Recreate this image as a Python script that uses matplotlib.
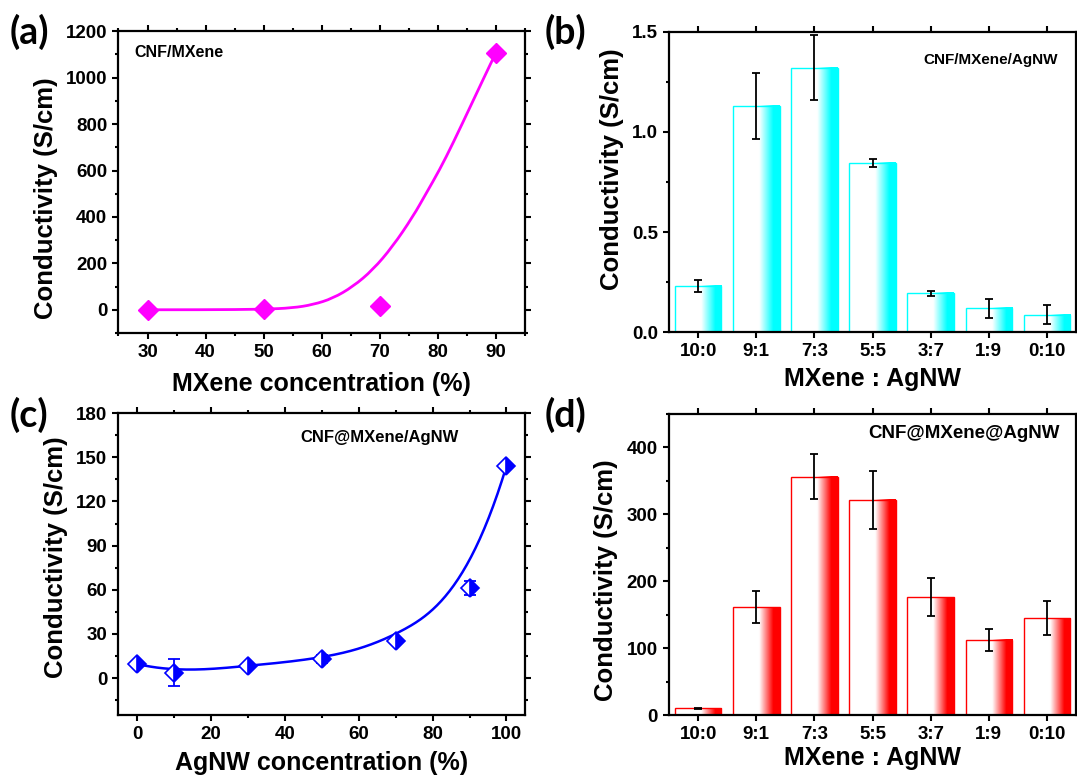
import numpy as np
import matplotlib.pyplot as plt
from matplotlib.colors import LinearSegmentedColormap
from matplotlib.ticker import MultipleLocator
from matplotlib.path import Path
from matplotlib.patches import PathPatch

plt.rcParams['font.family'] = ['Liberation Sans', 'DejaVu Sans']
plt.rcParams['font.weight'] = 'bold'
plt.rcParams['axes.labelweight'] = 'bold'

# (a) CNF/MXene
mx_conc = [30, 50, 70, 90]
mx_sigma = [0, 2, 18, 1105]
# fitted trend line for (a)
fit_a_x = [30, 40, 50, 55, 58.5, 61.9, 65.4, 68.8, 72.2, 75.7, 78, 80.3, 82.6, 86, 89.4, 90]
fit_a_y = [0, 0, 2, 8, 22, 49, 100, 172, 272, 401, 502, 603, 717, 897, 1077, 1105]

# (b) CNF/MXene/AgNW
ratios = ['10:0', '9:1', '7:3', '5:5', '3:7', '1:9', '0:10']
b_sigma = [0.23, 1.13, 1.32, 0.845, 0.195, 0.12, 0.088]
b_err = [0.029, 0.163, 0.163, 0.022, 0.012, 0.047, 0.047]

# (c) CNF@MXene/AgNW
ag_conc = [0, 10, 30, 50, 70, 90, 100]
c_sigma = [9.7, 3.7, 8.4, 13.1, 25.4, 61.1, 144]
c_err = [0.8, 9.0, 1.5, 2.5, 2.0, 4.8, 1.5]

# (d) CNF@MXene@AgNW
d_sigma = [10, 161, 356, 321, 176, 112.6, 144.5]
d_err = [1, 24, 34, 43.6, 28.4, 16.4, 25.4]


def bspline(px, py, k=3, n=400):
    # clamped uniform B-spline using the data points as control points
    px = np.asarray(px, float)
    py = np.asarray(py, float)
    m = len(px)
    knots = np.concatenate([np.zeros(k), np.linspace(0, 1, m - k + 1), np.ones(k)])
    t = np.linspace(0, 1, n)
    t[-1] -= 1e-9
    N = np.array([((knots[i] <= t) & (t < knots[i + 1])).astype(float)
                  for i in range(len(knots) - 1)])
    for d in range(1, k + 1):
        Nn = np.zeros((len(knots) - 1 - d, n))
        for i in range(len(knots) - 1 - d):
            d1 = knots[i + d] - knots[i]
            d2 = knots[i + d + 1] - knots[i + 1]
            a = (t - knots[i]) / d1 * N[i] if d1 > 0 else 0
            b = (knots[i + d + 1] - t) / d2 * N[i + 1] if d2 > 0 else 0
            Nn[i] = a + b
        N = Nn
    return N.T @ px, N.T @ py


def smooth_path(xs, ys):
    # quadratic curve segments through midpoints, so the line has no corners
    pts = list(zip(xs, ys))
    verts = [pts[0]]
    codes = [Path.MOVETO]
    for i in range(1, len(pts) - 1):
        mid = ((pts[i][0] + pts[i + 1][0]) / 2, (pts[i][1] + pts[i + 1][1]) / 2)
        verts += [pts[i], mid]
        codes += [Path.CURVE3, Path.CURVE3]
    verts.append(pts[-1])
    codes.append(Path.LINETO)
    return Path(verts, codes)


def style(ax):
    for s in ax.spines.values():
        s.set_linewidth(1.6)
    ax.tick_params(which='both', direction='out', width=1.5, labelsize=13.5,
                   top=True, right=True)
    ax.tick_params(which='major', length=4.5)
    ax.tick_params(which='minor', length=2.5)
    for lab in ax.get_xticklabels() + ax.get_yticklabels():
        lab.set_fontweight('bold')


def gradient_bars(ax, values, errs, color):
    cmap = LinearSegmentedColormap.from_list(
        'g', [(0, 'white'), (0.56, 'white'), (0.86, color), (1, color)])
    grad = np.linspace(0, 1, 256).reshape(1, -1)
    w = 0.8
    for i, v in enumerate(values):
        ax.imshow(grad, cmap=cmap, extent=(i - w / 2, i + w / 2, 0, v),
                  aspect='auto', interpolation='bilinear', zorder=1)
    ax.bar(range(len(values)), values, width=w, facecolor='none',
           edgecolor=color, linewidth=1.0, zorder=2)
    ax.errorbar(range(len(values)), values, yerr=errs, fmt='none',
                ecolor='black', elinewidth=1.3, capsize=3, capthick=1.3, zorder=3)
    ax.set_xticks(range(len(values)))
    ax.set_xticklabels(ratios)
    ax.set_xlim(-0.5, len(values) - 0.5)


fig = plt.figure(figsize=(10.77, 7.8), dpi=100)
ax_a = fig.add_axes([0.110, 0.5731, 0.3774, 0.3868])
ax_b = fig.add_axes([0.6212, 0.574, 0.3779, 0.3853])
ax_c = fig.add_axes([0.110, 0.0833, 0.3774, 0.3872])
ax_d = fig.add_axes([0.6212, 0.0833, 0.3779, 0.3865])

ylab = 'Conductivity (S/cm)'

# (a)
ax_a.add_patch(PathPatch(smooth_path(fit_a_x, fit_a_y), facecolor='none',
                         edgecolor='#FF00FF', lw=2.0, zorder=2))
ax_a.plot(mx_conc, mx_sigma, 'D', color='#FF00FF', ms=10, zorder=3)
ax_a.set_xlim(25, 95)
ax_a.set_ylim(-100, 1200)
ax_a.xaxis.set_major_locator(MultipleLocator(10))
ax_a.xaxis.set_minor_locator(MultipleLocator(5))
ax_a.yaxis.set_major_locator(MultipleLocator(200))
ax_a.yaxis.set_minor_locator(MultipleLocator(100))
ax_a.set_xlabel('MXene concentration (%)', fontsize=18, labelpad=8)
ax_a.set_ylabel(ylab, fontsize=18.5, labelpad=6)
ax_a.yaxis.label.set_y(0.447)
ax_a.text(0.038, 0.931, 'CNF/MXene', transform=ax_a.transAxes, fontsize=11.5,
          fontweight='bold', va='center', ha='left')
style(ax_a)

# (b)
gradient_bars(ax_b, b_sigma, b_err, '#00FFFF')
ax_b.set_ylim(0, 1.5)
ax_b.yaxis.set_major_locator(MultipleLocator(0.5))
ax_b.yaxis.set_minor_locator(MultipleLocator(0.25))
ax_b.set_xlabel('MXene : AgNW', fontsize=18, labelpad=5)
ax_b.set_ylabel(ylab, fontsize=18.5, labelpad=6)
ax_b.yaxis.label.set_y(0.543)
ax_b.text(0.955, 0.907, 'CNF/MXene/AgNW', transform=ax_b.transAxes, fontsize=11,
          fontweight='bold', va='center', ha='right')
style(ax_b)
ax_b.tick_params(axis='x', which='minor', bottom=False, top=False)

# (c)
cx, cy = bspline(ag_conc, c_sigma)
ax_c.plot(cx, cy, color='#0000FF', lw=1.8, zorder=2)
ax_c.errorbar(ag_conc, c_sigma, yerr=c_err, fmt='none', ecolor='#0000FF',
              elinewidth=1.3, capsize=4, capthick=1.3, zorder=3)
ax_c.plot(ag_conc, c_sigma, 'D', color='#0000FF', ms=9, fillstyle='right',
          markerfacecoloralt='white', markeredgecolor='#0000FF', mew=1.2,
          zorder=4)
ax_c.set_xlim(-5, 105)
ax_c.set_ylim(-25, 180)
ax_c.xaxis.set_major_locator(MultipleLocator(20))
ax_c.xaxis.set_minor_locator(MultipleLocator(10))
ax_c.yaxis.set_major_locator(MultipleLocator(30))
ax_c.yaxis.set_minor_locator(MultipleLocator(15))
ax_c.set_xlabel('AgNW concentration (%)', fontsize=18, labelpad=6)
ax_c.set_ylabel(ylab, fontsize=18.5, labelpad=6)
ax_c.yaxis.label.set_y(0.523)
ax_c.text(0.643, 0.92, 'CNF@MXene/AgNW', transform=ax_c.transAxes, fontsize=12,
          fontweight='bold', va='center', ha='center')
style(ax_c)

# (d)
gradient_bars(ax_d, d_sigma, d_err, '#FF0000')
ax_d.set_ylim(0, 450)
ax_d.yaxis.set_major_locator(MultipleLocator(100))
ax_d.yaxis.set_minor_locator(MultipleLocator(50))
ax_d.set_xlabel('MXene : AgNW', fontsize=18, labelpad=2)
ax_d.set_ylabel(ylab, fontsize=18.5, labelpad=6)
ax_d.yaxis.label.set_y(0.447)
ax_d.text(0.961, 0.935, 'CNF@MXene@AgNW', transform=ax_d.transAxes, fontsize=13.5,
          fontweight='bold', va='center', ha='right')
style(ax_d)
ax_d.tick_params(axis='x', which='minor', bottom=False, top=False)

# panel letters
for lbl, x, y in [('(a)', 10, 32), ('(b)', 545, 32), ('(c)', 10, 415), ('(d)', 545, 415)]:
    fig.text(x / 1077, 1 - y / 780, lbl, fontsize=27, fontweight='bold',
             family=['Lato', 'DejaVu Sans'], va='center', ha='left')

fig.savefig('out.png', dpi=100)
